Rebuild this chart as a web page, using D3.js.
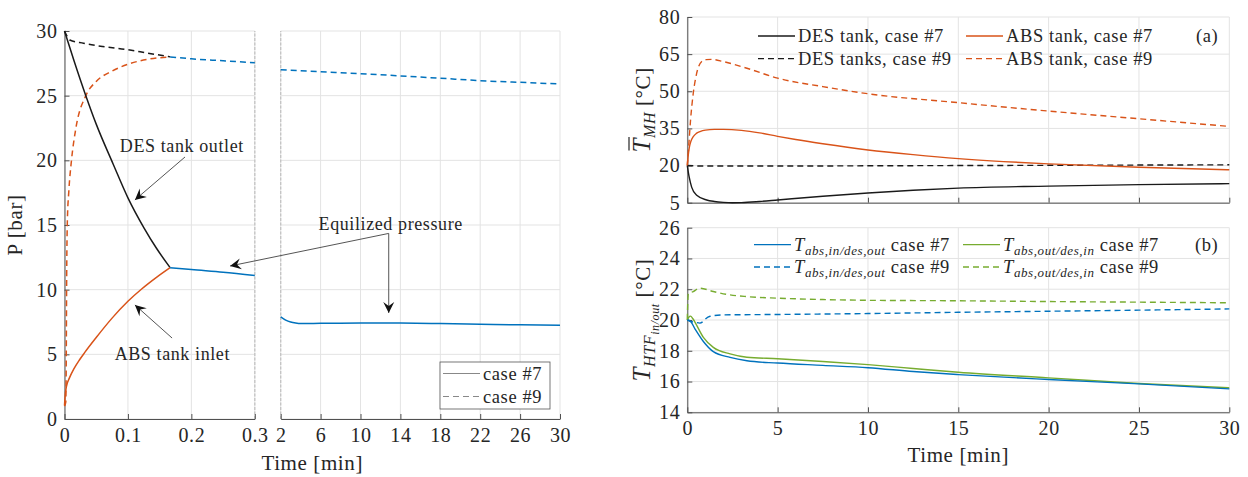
<!DOCTYPE html>
<html><head><meta charset="utf-8">
<script src="https://cdn.jsdelivr.net/npm/d3@7"></script>
<style>
body{margin:0;background:#fff;}
svg text{font-family:"Liberation Serif","Times New Roman",serif !important;fill:#262626;letter-spacing:0.6px;}
</style></head><body>
<svg id="c" width="1248" height="477" xmlns="http://www.w3.org/2000/svg"></svg>
<script>
// ---------------- DATA ----------------
// Left panel: pressure [bar] vs time [min]
const desOutlet7 = [[0,30],[0.015,27.7],[0.0336,25],[0.05,22.8],[0.0768,19.7],[0.1,17.1],[0.125,14.8],[0.145,13.2],[0.1665,11.7]];
const absInlet7  = [[0,1.05],[0.001,1.8],[0.003,2.5],[0.008,3.2],[0.015,3.9],[0.024,4.6],[0.032,5.15],[0.05,6.3],[0.075,7.8],[0.1,9.1],[0.1216,10.05],[0.145,10.95],[0.1665,11.7]];
const equal7a    = [[0.1665,11.7],[0.2,11.55],[0.25,11.35],[0.3,11.1]];
const equal7b    = [[2,7.9],[2.5,7.65],[3,7.5],[3.5,7.42],[4,7.38],[6,7.4],[10,7.43],[14,7.42],[18,7.38],[22,7.33],[26,7.28],[30,7.24]];
const desOutlet9 = [[0,30],[0.004,29.6],[0.0084,29.3],[0.03,29.05],[0.06,28.8],[0.1,28.55],[0.13,28.3],[0.1665,28.0]];
const absInlet9  = [[0,1.0],[0.002,1.3],[0.0028,5],[0.0033,10],[0.0045,15.3],[0.0068,17.6],[0.011,20],[0.018,22.5],[0.0336,25],[0.05,26.1],[0.075,26.9],[0.1,27.43],[0.13,27.8],[0.1665,28.0]];
const equal9a    = [[0.1665,28.0],[0.2,27.85],[0.25,27.7],[0.3,27.55]];
const equal9b    = [[2,27.0],[6,26.85],[10,26.7],[14,26.53],[18,26.35],[22,26.16],[26,26.03],[30,25.9]];
const leftXTicks1 = [0,0.1,0.2,0.3];
const leftXTicks2 = [2,6,10,14,18,22,26,30];
const leftYTicks  = [0,5,10,15,20,25,30];

// Right (a): mean metal hydride temperature [°C]
const tmhDES7 = [[0,20],[0.1,15.5],[0.24,11.3],[0.52,8.0],[1.07,6.1],[1.5,5.5],[2.0,5.15],[2.5,5.0],[3.0,5.05],[4.0,5.5],[5,6.1],[7.5,7.6],[10,8.9],[12.5,10],[15,10.9],[20,11.7],[25,12.3],[30,12.7]];
const tmhABS7 = [[0,20],[0.05,24],[0.11,27.2],[0.2,29.8],[0.33,31.7],[0.5,33],[0.7,33.7],[1.0,34.3],[1.5,34.6],[2,34.6],[3,34.2],[4,33.2],[5,31.8],[6,30.5],[7.5,28.8],[10,26.3],[12.5,24.4],[15,22.8],[17.5,21.6],[20,20.7],[25,19.3],[30,18.3]];
const tmhDES9 = [[0,20],[1,19.8],[5,19.8],[10,19.9],[15,20.0],[20,20.1],[25,20.2],[30,20.3]];
const tmhABS9 = [[0,20],[0.08,28],[0.18,38.4],[0.33,49.2],[0.52,57.3],[0.8,62],[1.05,62.8],[1.35,62.9],[2,62],[3.3,59.3],[5,55.3],[7.5,51.9],[10,49.0],[15,45.4],[20,42.0],[25,38.9],[30,35.8]];
const aYTicks = [5,20,35,50,65,80];

// Right (b): heat transfer fluid temperature [°C]
const htfIn7  = [[0,20],[0.15,19.95],[0.43,19.41],[0.89,18.6],[1.44,17.94],[2.37,17.57],[3.3,17.35],[5,17.2],[7.5,17.05],[10,16.9],[12.5,16.65],[15,16.45],[20,16.13],[25,15.85],[30,15.52]];
const htfOut7 = [[0,20],[0.08,20.18],[0.18,20.25],[0.3,20.1],[0.43,19.85],[0.89,18.87],[1.44,18.22],[2.37,17.8],[3.3,17.58],[5,17.48],[7.5,17.3],[10,17.1],[12.5,16.85],[15,16.6],[20,16.24],[25,15.87],[30,15.59]];
const htfIn9  = [[0,20],[0.2,19.9],[0.43,19.85],[0.7,19.8],[0.85,19.88],[1.0,20.06],[1.26,20.24],[2,20.33],[5,20.36],[10,20.42],[15,20.5],[20,20.57],[25,20.64],[30,20.72]];
const htfOut9 = [[0,20],[0.03,21.3],[0.06,21.7],[0.33,21.85],[0.7,22.07],[1.44,21.85],[2.37,21.63],[3.3,21.52],[5,21.42],[7.5,21.33],[10,21.28],[15,21.25],[20,21.2],[25,21.16],[30,21.12]];
const bYTicks = [14,16,18,20,22,24,26];
const rXTicks = [0,5,10,15,20,25,30];

// ---------------- STYLE ----------------
const GRID="#e3e3e3", AX="#505050";
const BLUE="#0072BD", ORANGE="#D95319", GREEN="#77AC30", BLACK="#1a1a1a";
const DASH="6,4";
const FT=20, FL=21, FLEG=18.5, FANN=18;

const svg = d3.select("#c");

// ---------------- SCALES ----------------
const xL1 = d3.scaleLinear([0,0.3],[64.5,254.8]);
const xL2 = d3.scaleLinear([2,30],[280.7,560]);
const yL  = d3.scaleLinear([0,30],[419,31]);
const xR  = d3.scaleLinear([0,30],[687.3,1229.3]);
const yA  = d3.scaleLinear([5,80],[202.7,17]);
const yB  = d3.scaleLinear([14,26],[412.3,227.7]);

// ---------------- HELPERS ----------------
function drawGrid(x, y, xt, yt){
  const g = svg.append("g");
  g.selectAll(".v").data(xt).join("line")
    .attr("x1",d=>x(d)).attr("x2",d=>x(d)).attr("y1",y.range()[0]).attr("y2",y.range()[1])
    .attr("stroke",GRID).attr("stroke-width",1);
  g.selectAll(".h").data(yt).join("line")
    .attr("x1",x.range()[0]).attr("x2",x.range()[1]).attr("y1",d=>y(d)).attr("y2",d=>y(d))
    .attr("stroke",GRID).attr("stroke-width",1);
}
function styleAxis(g, fs){
  g.attr("font-family",null).attr("font-size",null);
  g.select(".domain").attr("stroke",AX).attr("stroke-width",1);
  g.selectAll(".tick line").attr("stroke",AX);
  g.selectAll(".tick text").style("font-family","'Liberation Serif', serif").style("font-size",fs+"px").attr("fill","#262626");
}
function bottomAxis(x, y0, ticks, labels, fmt){
  const ax = d3.axisBottom(x).tickValues(ticks).tickSizeInner(-5).tickSizeOuter(0).tickPadding(9);
  ax.tickFormat(labels ? (fmt||d3.format("")) : "");
  const g = svg.append("g").attr("transform",`translate(0,${y0})`).call(ax);
  styleAxis(g, FT);
  return g;
}
function leftAxis(y, x0, ticks){
  const ax = d3.axisLeft(y).tickValues(ticks).tickSizeInner(-5).tickSizeOuter(0).tickPadding(7);
  const g = svg.append("g").attr("transform",`translate(${x0},0)`).call(ax);
  styleAxis(g, FT);
  return g;
}
function curve(data, x, y, color, dashed, w){
  svg.append("path").datum(data)
    .attr("d", d3.line().x(d=>x(d[0])).y(d=>y(d[1])).curve(d3.curveMonotoneX))
    .attr("fill","none").attr("stroke",color).attr("stroke-width",w||1.5)
    .attr("stroke-dasharray",dashed?DASH:null).attr("stroke-linejoin","round");
}
function arrow(x1,y1,x2,y2){
  svg.append("line").attr("x1",x1).attr("y1",y1).attr("x2",x2).attr("y2",y2)
    .attr("stroke","#555").attr("stroke-width",1);
  const a = Math.atan2(y2-y1,x2-x1), L=11, W=5.5, N=7;
  const ux=Math.cos(a), uy=Math.sin(a), px=-uy, py=ux;
  const pts=[[x2,y2],[x2-L*ux+W*px,y2-L*uy+W*py],[x2-N*ux,y2-N*uy],[x2-L*ux-W*px,y2-L*uy-W*py]];
  svg.append("path").attr("d","M"+pts.map(p=>p.join(",")).join("L")+"Z").attr("fill","#111");
}

// ================= LEFT PANEL =================
drawGrid(xL1, yL, leftXTicks1, leftYTicks);
drawGrid(xL2, yL, leftXTicks2, leftYTicks);
svg.append("line").attr("x1",xL1(0.3)).attr("x2",xL1(0.3)).attr("y1",yL(0)).attr("y2",yL(30))
  .attr("stroke","#c4c4c4").attr("stroke-width",1.3).attr("stroke-dasharray","3,1.5");
svg.append("line").attr("x1",xL2(2)).attr("x2",xL2(2)).attr("y1",yL(0)).attr("y2",yL(30))
  .attr("stroke","#c4c4c4").attr("stroke-width",1.3).attr("stroke-dasharray","3,1.5");

bottomAxis(xL1, yL(0), leftXTicks1, true, d=>d===0?"0":d3.format(".1f")(d));
bottomAxis(xL2, yL(0), leftXTicks2, true);
leftAxis(yL, xL1(0), leftYTicks);

curve(equal9a, xL1, yL, BLUE, true);
curve(equal9b, xL2, yL, BLUE, true);
curve(desOutlet9, xL1, yL, BLACK, true);
curve(absInlet9, xL1, yL, ORANGE, true);
curve(desOutlet7, xL1, yL, BLACK, false);
curve(absInlet7, xL1, yL, ORANGE, false);
curve(equal7a, xL1, yL, BLUE, false);
curve(equal7b, xL2, yL, BLUE, false);

// annotations
svg.append("text").attr("x",xL1(0.185)).attr("y",yL(20.67)).attr("text-anchor","middle").attr("font-size",FANN).text("DES tank outlet");
arrow(xL1(0.19),yL(20.26),xL1(0.111),yL(16.94));
svg.append("text").attr("x",xL1(0.170)).attr("y",yL(4.6)).attr("text-anchor","middle").attr("font-size",FANN).text("ABS tank inlet");
arrow(xL1(0.1696),yL(6.26),xL1(0.111),yL(8.82));
svg.append("text").attr("x",xL2(13.03)).attr("y",yL(14.6)).attr("text-anchor","middle").attr("font-size",FANN).text("Equilized pressure");
arrow(xL2(12.83),yL(14.35),xL1(0.261),yL(11.83));
arrow(xL2(12.83),yL(14.35),xL2(12.83),yL(8.2));

// legend (left)
{
  const bx = xL2(30)-120, by = yL(0)-57, bw=110, bh=47;
  svg.append("rect").attr("x",bx).attr("y",by).attr("width",bw).attr("height",bh)
    .attr("fill","#fff").attr("stroke","#555").attr("stroke-width",0.8);
  const rows=[["case #7",null],["case #9",DASH]];
  rows.forEach((r,i)=>{
    const cy = by+11.5+i*23;
    svg.append("line").attr("x1",bx+3).attr("x2",bx+40).attr("y1",cy).attr("y2",cy)
      .attr("stroke","#888").attr("stroke-width",1.2).attr("stroke-dasharray",r[1]);
    svg.append("text").attr("x",bx+43).attr("y",cy+6).attr("font-size",FLEG).text(r[0]);
  });
}
svg.append("text").attr("transform",`translate(22,${yL(15)}) rotate(-90)`).attr("text-anchor","middle")
  .attr("font-size",FL).text("P [bar]");
svg.append("text").attr("x",(xL1(0)+xL2(30))/2).attr("y",470).attr("text-anchor","middle")
  .attr("font-size",FL).text("Time [min]");

// ================= RIGHT (a) =================
drawGrid(xR, yA, rXTicks, aYTicks);
bottomAxis(xR, yA(5), rXTicks, false);
leftAxis(yA, xR(0), aYTicks);
curve(tmhDES9, xR, yA, BLACK, true, 1.4);
curve(tmhABS9, xR, yA, ORANGE, true, 1.4);
curve(tmhABS7, xR, yA, ORANGE, false, 1.4);
curve(tmhDES7, xR, yA, BLACK, false, 1.4);

function legendEntry(x, cy, color, dash, build){
  svg.append("line").attr("x1",x).attr("x2",x+37).attr("y1",cy).attr("y2",cy)
    .attr("stroke",color).attr("stroke-width",1.4).attr("stroke-dasharray",dash);
  const t = svg.append("text").attr("x",x+40).attr("y",cy+6).attr("font-size",FLEG);
  build(t);
}
const plain = s => t => t.text(s);
legendEntry(758, yA(72.3), BLACK, null, plain("DES tank, case #7"));
legendEntry(758, yA(63.2), BLACK, DASH, plain("DES tanks, case #9"));
legendEntry(966, yA(72.3), ORANGE, null, plain("ABS tank, case #7"));
legendEntry(966, yA(63.2), ORANGE, DASH, plain("ABS tank, case #9"));
svg.append("text").attr("x",xR(30)-11).attr("y",yA(72.3)+6).attr("text-anchor","end").attr("font-size",FLEG).text("(a)");

// y label (a)
{
  const g = svg.append("g").attr("transform",`translate(650,${(yA(5)+yA(80))/2}) rotate(-90)`);
  const t = g.append("text").attr("text-anchor","middle").attr("font-size",FL);
  t.append("tspan").attr("font-style","italic").attr("font-size",25).text("T");
  t.append("tspan").attr("font-style","italic").attr("font-size",16).attr("dy",5).text("MH");
  t.append("tspan").attr("dy",-5).text("  [°C]");
  const e = t.node().getExtentOfChar(0);
  g.append("line").attr("x1",e.x+2).attr("x2",e.x+e.width+1).attr("y1",e.y+1).attr("y2",e.y+1)
    .attr("stroke","#262626").attr("stroke-width",1.2);
}

// ================= RIGHT (b) =================
drawGrid(xR, yB, rXTicks, bYTicks);
bottomAxis(xR, yB(14), rXTicks, true);
leftAxis(yB, xR(0), bYTicks);
curve(htfOut9, xR, yB, GREEN, true, 1.4);
curve(htfIn9, xR, yB, BLUE, true, 1.4);
curve(htfOut7, xR, yB, GREEN, false, 1.4);
curve(htfIn7, xR, yB, BLUE, false, 1.4);

const subLabel = (sub, cs) => t => {
  t.append("tspan").attr("font-style","italic").text("T");
  t.append("tspan").attr("font-style","italic").attr("font-size",13).attr("dy",4).text(sub);
  t.append("tspan").attr("dy",-4).text(" case "+cs);
};
legendEntry(754, yB(24.9), BLUE, null, subLabel("abs,in/des,out","#7"));
legendEntry(754, yB(23.45), BLUE, DASH, subLabel("abs,in/des,out","#9"));
legendEntry(963, yB(24.9), GREEN, null, subLabel("abs,out/des,in","#7"));
legendEntry(963, yB(23.45), GREEN, DASH, subLabel("abs,out/des,in","#9"));
svg.append("text").attr("x",xR(30)-11).attr("y",yB(24.9)+6).attr("text-anchor","end").attr("font-size",FLEG).text("(b)");

{
  const g = svg.append("g").attr("transform",`translate(650,${(yB(14)+yB(26))/2}) rotate(-90)`);
  const t = g.append("text").attr("text-anchor","middle").attr("font-size",FL);
  t.append("tspan").attr("font-style","italic").attr("font-size",25).text("T");
  t.append("tspan").attr("font-style","italic").attr("font-size",16).attr("dy",5).text("HTF");
  t.append("tspan").attr("font-style","italic").attr("font-size",12).attr("dy",3.5).text("in/out");
  t.append("tspan").attr("dy",-8.5).text("  [°C]");
}
svg.append("text").attr("x",xR(15)).attr("y",462).attr("text-anchor","middle").attr("font-size",FL).text("Time [min]");
</script>
</body></html>
